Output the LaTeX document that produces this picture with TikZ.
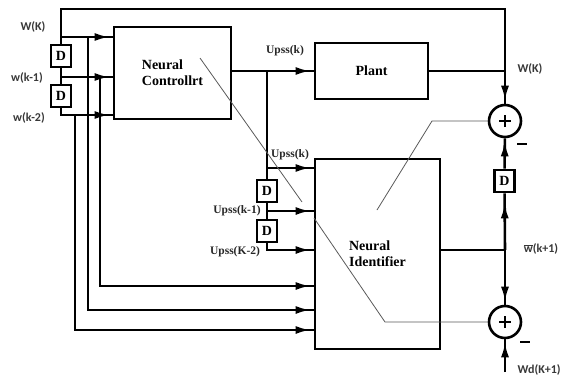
\documentclass[tikz,border=0pt]{standalone}
\usepackage{fontspec}
\setmainfont{Liberation Serif}
\newfontfamily\lblfont{Carlito}
\usetikzlibrary{arrows.meta, decorations.markings}

\begin{document}
\begin{tikzpicture}[
  x=1pt, y=-1pt,
  line width=2.6pt,
  block/.style={draw, line width=2.8pt, align=left, inner sep=0pt, font=\fontsize{14}{16}\selectfont\bfseries},
  dly/.style={draw, line width=2.6pt, fill=white, minimum width=20pt, minimum height=22pt, inner sep=0pt, font=\fontsize{14}{14}\selectfont\bfseries},
  summ/.style={draw, circle, line width=2.6pt, minimum size=32pt, inner sep=0pt},
  sig/.style={font=\fontsize{11.5}{12}\selectfont\bfseries, text=black!85},
  var/.style={font=\lblfont\fontsize{12}{13}\selectfont\bfseries, text=black!78},
  arr/.style={postaction={decorate}, decoration={markings, mark=at position -#1 with {\arrow{Latex[length=15pt, width=8pt]}}}},
  arr/.default=3pt,
  learn/.style={line width=0.8pt, draw=black!65}
]
\useasboundingbox (0,0) rectangle (563,376);
\newcommand{\plussign}{\makebox[0pt]{\rule[-6pt]{2.8pt}{12pt}}\makebox[0pt]{\rule[-1.4pt]{12pt}{2.8pt}}}

% blocks
\node[block, minimum width=117pt, minimum height=92pt] (ctrl) at (172.5,73) {Neural\\Controllrt};
\node[block, minimum width=113pt, minimum height=56pt] (plant) at (371.5,71) {Plant};
\node[block, minimum width=125pt, minimum height=190pt] (idn) at (377.5,254) {Neural\\Identifier};
\node[dly] (d1) at (61,56) {D};
\node[dly] (d2) at (61,96) {D};
\node[dly] (d3) at (267,191) {D};
\node[dly] (d4) at (267,231) {D};
\node[dly] (d5) at (504.5,181) {D};
\node[summ] (s1) at (505,121) {\plussign};
\node[summ] (s2) at (505,322) {\plussign};

% branch points
\coordinate (tl) at (61,9);
\coordinate (wk)  at (61,37);
\coordinate (wk1) at (61,77);
\coordinate (wk2) at (61,115);
\coordinate (b0) at (88,37);
\coordinate (b1) at (100,77);
\coordinate (b2) at (75,115);
\coordinate (r0) at (88,310);
\coordinate (r1) at (100,286);
\coordinate (r2) at (75,330);
\coordinate (u0) at (267,71);
\coordinate (u1) at (267,168);
\coordinate (u2) at (267,211);
\coordinate (u3) at (267,250);
\coordinate (jo) at (505,250);
\coordinate (wd) at (505,372);

% delayed plant outputs
\draw[arr] (d1) -- (tl) -| (s1);
\draw[arr] (wk) -- (ctrl.west |- wk);
\draw (d1) -- (d2);
\draw[arr] (wk1) -- (ctrl.west |- wk1);
\draw[arr] (d2) |- (ctrl.west |- wk2);
\draw[arr] (b0) -- (r0) -- (idn.west |- r0);
\draw[arr] (b1) -- (r1) -- (idn.west |- r1);
\draw[arr] (b2) -- (r2) -- (idn.west |- r2);

% control signal
\draw[arr] (ctrl.east |- plant.west) -- (plant.west);
\draw (u0) -- (d3);
\draw[arr] (u1) -- (idn.west |- u1);
\draw (d3) -- (d4);
\draw[arr] (u2) -- (idn.west |- u2);
\draw[arr] (d4) |- (idn.west |- u3);

% outputs and errors
\draw (plant) -- (plant -| s1);
\draw (idn.east |- jo) -- (jo);
\draw[arr=10pt] (jo) -- (d5);
\draw[arr] (d5) -- (s1);
\draw[arr] (jo) -- (s2);
\draw[arr] (wd) -- (s2);

% learning paths
\coordinate (l1) at (200,58);
\coordinate (l2) at (302,202);
\coordinate (l3) at (314,218);
\coordinate (l4) at (385,322);
\coordinate (l5) at (377,210);
\coordinate (l6) at (432,121);
\draw[learn] (l1) -- (l2);
\draw[learn] (l3) -- (l4) -- (s2);
\draw[learn] (l5) -- (l6) -- (s1);

% labels
\node[var] (lwk) at (33,27) {W(K)};
\node[var] (lwk1) at (27,78) {w(k-1)};
\node[var] (lwk2) at (29,118) {w(k-2)};
\node[sig] (lu0) at (285,51) {Upss(k)};
\node[sig] (lu1) at (290,155) {Upss(k)};
\node[sig] (lu2) at (237,211) {Upss(k-1)};
\node[sig] (lu3) at (235,252) {Upss(K-2)};
\node[var] (lwo) at (530,69) {W(K)};
\node[var] (lwb) at (541,249) {$\overline{\mbox{w}}$(k+1)};
\node[var, anchor=east, inner xsep=1pt] (lwd) at (563,370) {Wd(K+1)};
\node[inner sep=0pt] (m1) at (522,144) {\rule{10pt}{2.6pt}};
\node[inner sep=0pt] (m2) at (525,342) {\rule{10pt}{2.6pt}};
\end{tikzpicture}
\end{document}
